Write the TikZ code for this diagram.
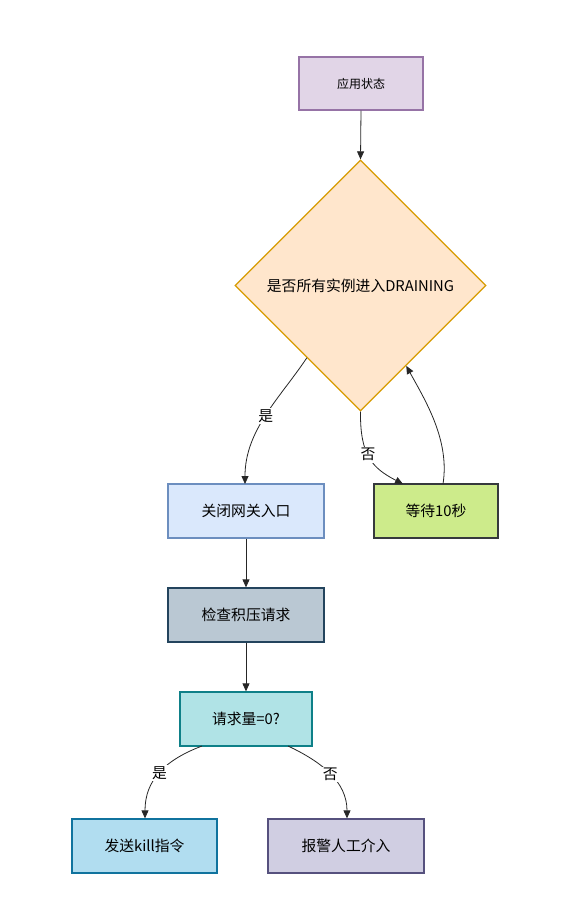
\documentclass[tikz,border=0pt]{standalone}
\usepackage{fontspec}
\setmainfont{Noto Sans CJK SC}
\usetikzlibrary{shapes.geometric,arrows.meta,calc}
\definecolor{appfill}{HTML}{E1D5E7}\definecolor{appdraw}{HTML}{9673A6}
\definecolor{dfill}{HTML}{FFE6CC}\definecolor{ddraw}{HTML}{D79B00}
\definecolor{closefill}{HTML}{DAE8FC}\definecolor{closedraw}{HTML}{6C8EBF}
\definecolor{waitfill}{HTML}{CDEB8B}\definecolor{waitdraw}{HTML}{36393D}
\definecolor{checkfill}{HTML}{BAC8D3}\definecolor{checkdraw}{HTML}{23445D}
\definecolor{reqfill}{HTML}{B0E3E6}\definecolor{reqdraw}{HTML}{0E8088}
\definecolor{killfill}{HTML}{B1DDF0}\definecolor{killdraw}{HTML}{10739E}
\definecolor{alarmfill}{HTML}{D0CEE2}\definecolor{alarmdraw}{HTML}{56517E}
\tikzset{
  box/.style={rectangle, draw=#1draw, fill=#1fill, line width=1.3pt, minimum height=54pt, inner sep=0pt, font=\fontsize{14.8}{17}\selectfont},
  conn/.style={draw=black!85, line width=0.8pt, -{Triangle[length=8pt,width=7pt]}},
  lbl/.style={fill=white, inner sep=1.5pt, font=\fontsize{14.8}{17}\selectfont}
}
\begin{document}
\begin{tikzpicture}[x=1pt,y=-1pt]
\useasboundingbox (0,0) rectangle (572,922);
\node[box=app, minimum width=124pt, minimum height=53pt, font=\fontsize{12}{14}\selectfont] (app) at (361,83.5) {应用状态};
\node[diamond, aspect=1, draw=ddraw, fill=dfill, line width=1.3pt, minimum width=251pt, minimum height=251pt, inner sep=0pt, font=\fontsize{14.8}{17}\selectfont] (d) at (360.5,285.5) {是否所有实例进入DRAINING};
\node[box=close, minimum width=156pt] (close) at (246,511) {关闭网关入口};
\node[box=wait, minimum width=124pt] (wait) at (436,511) {等待10秒};
\node[box=check, minimum width=156pt] (check) at (246,615) {检查积压请求};
\node[box=req, minimum width=132pt] (req) at (246,719) {请求量=0?};
\node[box=kill, minimum width=145pt] (kill) at (144.5,846) {发送kill指令};
\node[box=alarm, minimum width=156pt] (alarm) at (346,846) {报警人工介入};

\coordinate (dyes) at ($(d.west)!0.574!(d.south)$);
\coordinate (dback) at ($(d.south)!0.363!(d.east)$);
\coordinate (closetop) at (245,484);
\coordinate (waitin) at (403,484);
\coordinate (waitout) at (443,484);

\draw[conn] (app.south) -- (d.north);
\draw[conn] (dyes) .. controls (280,398) and (245,430) .. node[lbl, pos=0.5] {是} (closetop);
\draw[conn] (d.south) .. controls (360,455) and (372,468) .. node[lbl, pos=0.45] {否} (waitin);
\draw[conn] (waitout) .. controls (450,440) and (425,400) .. (dback);
\draw[conn] (close) -- (check);
\draw[conn] (check) -- (req);
\coordinate (reqyes) at (202,746);
\coordinate (reqno) at (288,746);
\draw[conn] (reqyes) .. controls (165,760) and (145,780) .. node[lbl, pos=0.5] {是} (kill.north -| 145,0);
\draw[conn] (reqno) .. controls (322,762) and (347,782) .. node[lbl, pos=0.5] {否} (alarm.north -| 347,0);
\end{tikzpicture}
\end{document}
